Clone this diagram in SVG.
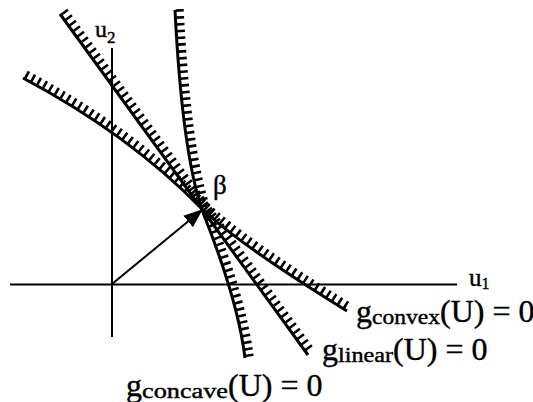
<svg xmlns="http://www.w3.org/2000/svg" width="533" height="402" viewBox="0 0 533 402">
<defs>
<style>
.axis{stroke:#000;stroke-width:2;fill:none}
.bound{stroke:#000;stroke-width:3;fill:none}
.hatch{stroke:#000;stroke-width:8;fill:none;stroke-dasharray:2.6 4.2}
.t{font-family:"Liberation Serif","Times New Roman",serif;fill:#000;stroke:#000;stroke-width:0.4}
</style>
<marker id="ah" viewBox="0 0 19 15" refX="18" refY="7.5" markerWidth="19" markerHeight="15" markerUnits="userSpaceOnUse" orient="auto">
<path d="M0,0 L19,7.5 L0,15 Z" fill="#000"/>
</marker>
</defs>
<g id="connectors">
<line class="axis" x1="10" y1="284.5" x2="457" y2="284.5"/>
<line class="axis" x1="112" y1="48" x2="112" y2="337"/>
<line class="axis" x1="112" y1="284" x2="202" y2="210" marker-end="url(#ah)"/>
</g>
<g id="g-linear">
<path class="bound" d="M60,14 L308,355"/>
<path class="hatch" transform="translate(4,-2.9)" d="M60,14 L308,355"/>
</g>
<g id="g-concave">
<path class="bound" d="M175,10 Q182,150 202,210 Q238,300 245,358"/>
<path class="hatch" transform="translate(4.7,-0.9)" d="M175,10 Q182,150 202,210 Q238,300 245,358"/>
</g>
<g id="g-convex">
<path class="bound" d="M23,78 Q130,135 202,209 Q240,245 347,311"/>
<path class="hatch" transform="translate(2.9,-3.8)" d="M23,78 Q130,135 202,209 Q240,245 347,311"/>
</g>
<g id="labels">
<text class="t" x="95" y="37" font-size="24">u<tspan font-size="17" dy="6">2</tspan></text>
<text class="t" x="469" y="286" font-size="25">u<tspan font-size="16" dy="3">1</tspan></text>
<text class="t" x="213" y="194" font-size="27">β</text>
<text class="t" x="356" y="322" font-size="32">g<tspan font-size="20" dy="2" textLength="68" lengthAdjust="spacingAndGlyphs">convex</tspan><tspan dy="-2">(U) = 0</tspan></text>
<text class="t" x="322" y="360" font-size="32">g<tspan font-size="20" dy="2" textLength="55" lengthAdjust="spacingAndGlyphs">linear</tspan><tspan dy="-2">(U) = 0</tspan></text>
<text class="t" x="126" y="396" font-size="32">g<tspan font-size="20" dy="2" textLength="86" lengthAdjust="spacingAndGlyphs">concave</tspan><tspan dy="-2">(U) = 0</tspan></text>
</g>
</svg>
